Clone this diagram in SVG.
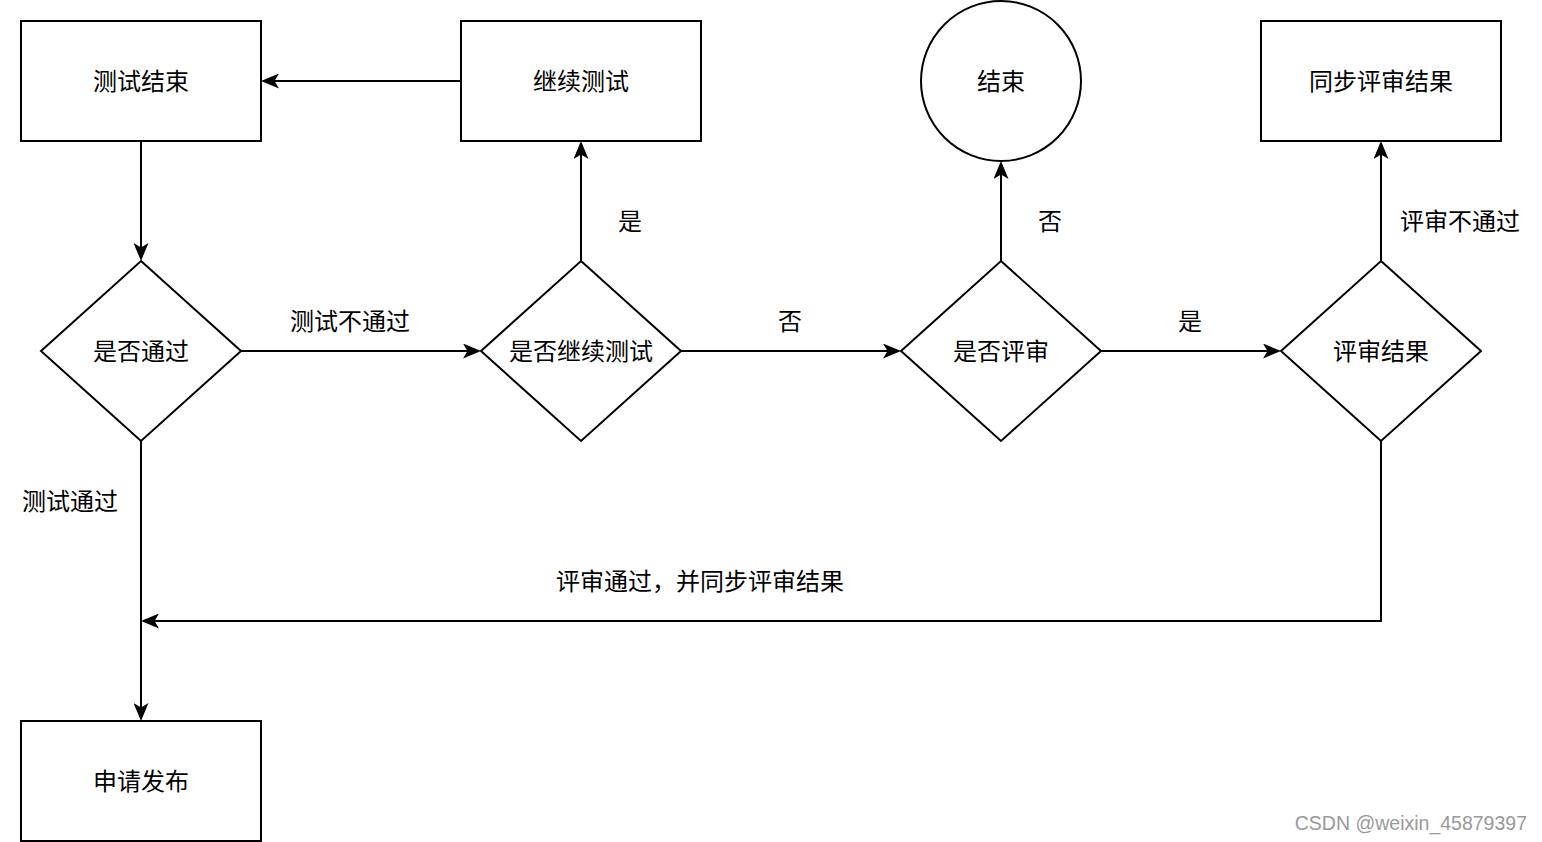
<svg xmlns="http://www.w3.org/2000/svg" width="1542" height="842" viewBox="0 0 1542 842">
<defs>
<style>
.n{fill:#fff;stroke:#000;stroke-width:2}
.t{font-family:"Noto Sans CJK SC","Noto Sans",sans-serif;font-size:24px;fill:#000;text-anchor:middle;dominant-baseline:central}
.e{fill:none;stroke:#000;stroke-width:2}
.wm{font-family:"Liberation Sans",Arial,sans-serif;font-size:19.5px;fill:#999;text-anchor:end}
</style>
<marker id="a" viewBox="0 0 18 15" markerWidth="18" markerHeight="15" refX="13" refY="7.5" orient="auto" markerUnits="userSpaceOnUse">
<path d="M18,7.5 L0,0 L4.5,7.5 L0,15 Z" fill="#000"/>
</marker>
</defs>
<rect width="1542" height="842" fill="#fff"/>
<g id="edges">
<path class="e" d="M461,81 H266" marker-end="url(#a)"/>
<path class="e" d="M141,141 V256" marker-end="url(#a)"/>
<path class="e" d="M241,351 H476" marker-end="url(#a)"/>
<path class="e" d="M581,261 V146" marker-end="url(#a)"/>
<path class="e" d="M681,351 H896" marker-end="url(#a)"/>
<path class="e" d="M1001,261 V166" marker-end="url(#a)"/>
<path class="e" d="M1101,351 H1276" marker-end="url(#a)"/>
<path class="e" d="M1381,261 V146" marker-end="url(#a)"/>
<path class="e" d="M1381,441 V621 H146" marker-end="url(#a)"/>
<path class="e" d="M141,441 V716" marker-end="url(#a)"/>
<text class="t" x="350" y="319">测试不通过</text>
<text class="t" x="630" y="219">是</text>
<text class="t" x="790" y="319">否</text>
<text class="t" x="1050" y="219">否</text>
<text class="t" x="1190" y="319">是</text>
<text class="t" x="1460" y="219">评审不通过</text>
<text class="t" x="700" y="579">评审通过，并同步评审结果</text>
<text class="t" x="70" y="499">测试通过</text>
</g>
<g id="n1"><rect class="n" x="21" y="21" width="240" height="120"/><text class="t" x="141" y="79">测试结束</text></g>
<g id="n2"><rect class="n" x="461" y="21" width="240" height="120"/><text class="t" x="581" y="79">继续测试</text></g>
<g id="n3"><circle class="n" cx="1001" cy="81" r="80"/><text class="t" x="1001" y="79">结束</text></g>
<g id="n4"><rect class="n" x="1261" y="21" width="240" height="120"/><text class="t" x="1381" y="79">同步评审结果</text></g>
<g id="d1"><path class="n" d="M141,261 L241,351 L141,441 L41,351 Z"/><text class="t" x="141" y="349">是否通过</text></g>
<g id="d2"><path class="n" d="M581,261 L681,351 L581,441 L481,351 Z"/><text class="t" x="581" y="349">是否继续测试</text></g>
<g id="d3"><path class="n" d="M1001,261 L1101,351 L1001,441 L901,351 Z"/><text class="t" x="1001" y="349">是否评审</text></g>
<g id="d4"><path class="n" d="M1381,261 L1481,351 L1381,441 L1281,351 Z"/><text class="t" x="1381" y="349">评审结果</text></g>
<g id="n5"><rect class="n" x="21" y="721" width="240" height="120"/><text class="t" x="141" y="779">申请发布</text></g>
<text class="wm" x="1527" y="830">CSDN @weixin_45879397</text>
</svg>
